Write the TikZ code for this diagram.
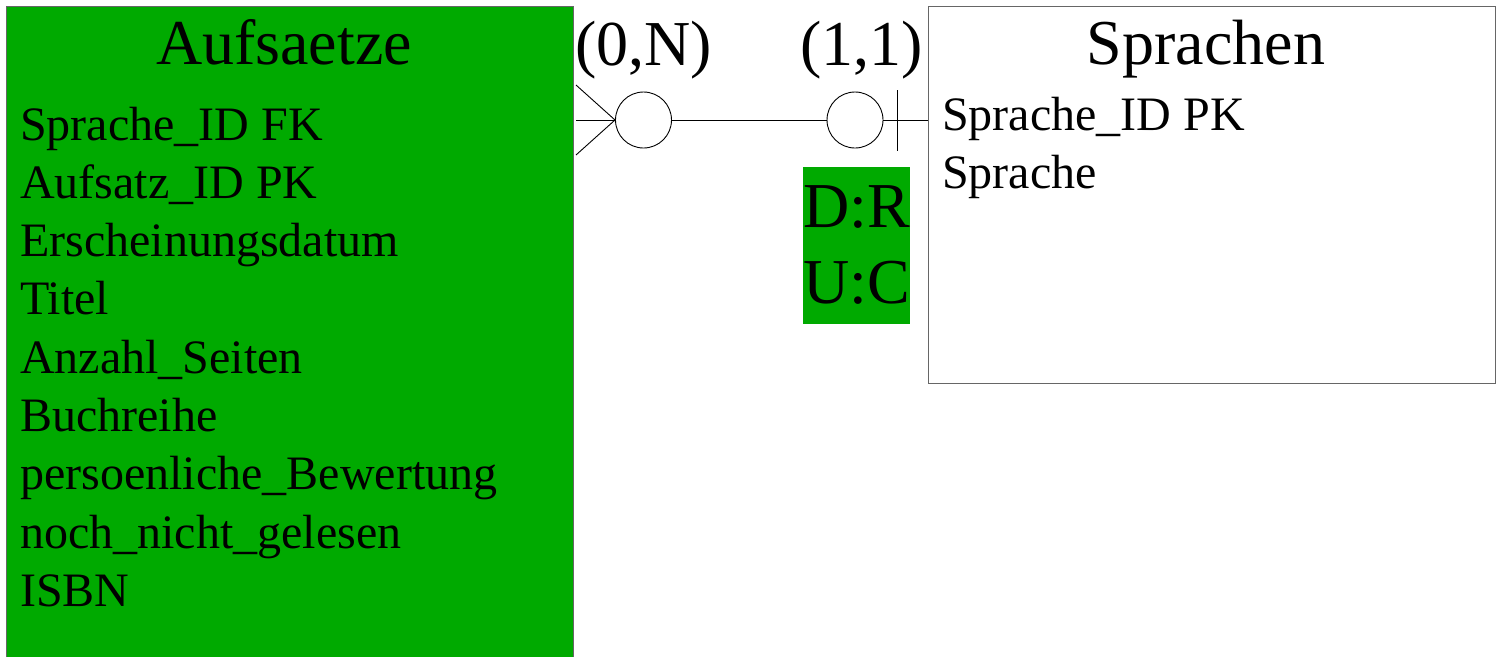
\documentclass[tikz,border=0pt]{standalone}
\usepackage{fontspec}
\setmainfont{Liberation Serif}
\definecolor{ergreen}{HTML}{00AA00}
\begin{document}
\begin{tikzpicture}[x=1pt,y=-1pt,
  entity/.style={draw=black!60, line width=1pt, inner sep=0pt, outer sep=0pt, anchor=north west},
  bigtext/.style={font=\fontsize{64}{77}\selectfont, inner sep=0pt, anchor=base},
  attr/.style={font=\fontsize{48}{58}\selectfont, inner sep=0pt, anchor=base west},
  conn/.style={line width=0.9pt, black},
  ring/.style={draw, circle, line width=0.9pt, minimum size=56pt, inner sep=0pt}]
\useasboundingbox (0,0) rectangle (1501,656);
\begin{scope}
\clip (0,0) rectangle (1501,656);
\node[entity, fill=ergreen, minimum width=567pt, minimum height=680pt] (aufs) at (6,6) {};
\end{scope}
\node[entity, fill=white, minimum width=567pt, minimum height=377pt] (spr) at (928,6) {};

% titles
\node[bigtext] (aufsT) at (284,64) {Aufsaetze};
\node[bigtext] (sprT) at (1206,64) {Sprachen};

% attributes left
\node[attr] (a1) at (20,140.0) {Sprache\_ID FK};
\node[attr] (a2) at (20,198.3) {Aufsatz\_ID PK};
\node[attr] (a3) at (20,256.6) {Erscheinungsdatum};
\node[attr] (a4) at (20,314.9) {Titel};
\node[attr] (a5) at (20,373.2) {Anzahl\_Seiten};
\node[attr] (a6) at (20,431.5) {Buchreihe};
\node[attr] (a7) at (20,489.8) {persoenliche\_Bewertung};
\node[attr] (a8) at (20,548.1) {noch\_nicht\_gelesen};
\node[attr] (a9) at (20,606.4) {ISBN};

% attributes right
\node[attr] (s1) at (942,130) {Sprache\_ID PK};
\node[attr] (s2) at (942,188) {Sprache};

% cardinalities
\node[bigtext, anchor=base west] (cardL) at (575,65) {(0,N)};
\node[bigtext, anchor=base west] (cardR) at (800,65) {(1,1)};

% relationship connector
\coordinate (footL) at (576,120);
\coordinate (footTip) at (615,120);
\node[ring] (circL) at (643.5,120) {};
\node[ring] (circR) at (855,120) {};
\coordinate (barR) at (897,120);
\coordinate (endR) at (928,120);
\draw[conn] (footL) -- (circL.west);
\draw[conn] (576,85) -- (footTip) -- (576,155);
\draw[conn] (circL.east) -- (circR.west);
\draw[conn] (circR.east) -- (endR);
\draw[conn] (897,90) -- (897,151);

% referential actions
\node[fill=ergreen, minimum width=107pt, minimum height=157pt, inner sep=0pt, anchor=north west] (ref) at (803,167) {};
\node[bigtext, anchor=base west] (refD) at (803,227) {D:R};
\node[bigtext, anchor=base west] (refU) at (803,303) {U:C};
\end{tikzpicture}
\end{document}
